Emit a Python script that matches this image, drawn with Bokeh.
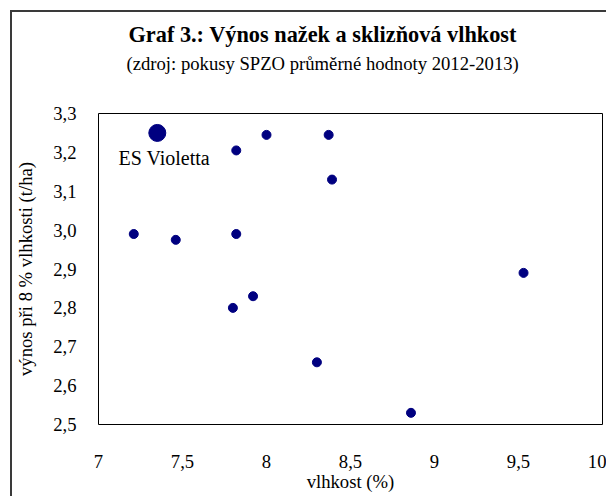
from bokeh.plotting import figure
from bokeh.models import Title, FixedTicker, ColumnDataSource
from bokeh.embed import file_html
from bokeh.resources import INLINE
from bokeh.core.properties import value

# ---- data ----
moisture = [7.82, 8.00, 8.37, 8.39, 7.21, 7.46, 7.82, 7.92, 9.53, 7.80, 8.30, 8.86]
yield_t = [3.205, 3.245, 3.245, 3.13, 2.99, 2.975, 2.99, 2.83, 2.89, 2.80, 2.66, 2.53]

hl_name = ["ES Violetta"]
hl_moisture = [7.35]
hl_yield = [3.25]

x_ticks = [7, 7.5, 8, 8.5, 9, 9.5, 10]
x_tick_labels = ["7", "7,5", "8", "8,5", "9", "9,5", "10"]
y_ticks = [2.5, 2.6, 2.7, 2.8, 2.9, 3.0, 3.1, 3.2, 3.3]
y_tick_labels = ["2,5", "2,6", "2,7", "2,8", "2,9", "3,0", "3,1", "3,2", "3,3"]

title_text = "Graf 3.: Výnos nažek a sklizňová vlhkost"
subtitle_text = "(zdroj: pokusy SPZO průměrné hodnoty 2012-2013)"
x_label = "vlhkost (%)"
y_label = "výnos při 8 % vlhkosti (t/ha)"

FONT = "Liberation Serif"
FS = "18.67px"
NAVY = "#000080"

p = figure(width=596, height=486, x_range=(7, 10), y_range=(2.5, 3.3),
           output_backend="svg", toolbar_location=None, title=None,
           min_border_left=82, min_border_right=6,
           min_border_top=101, min_border_bottom=74)
p.styles = {"border-left": "2px solid #3a3a3a", "border-top": "2px solid #3a3a3a",
            "margin-left": "10px", "margin-top": "10px"}

spacer = Title(text=" ", text_font_size="1px", standoff=36)
sub = Title(text=subtitle_text, align="left", offset=28, text_font=FONT,
            text_font_size=FS, text_font_style="normal", text_color="black",
            standoff=2)
main = Title(text=title_text, align="left", offset=30, text_font=FONT,
             text_font_size="22.3px", text_font_style="bold", text_color="black",
             standoff=6)
p.add_layout(spacer, "above")
p.add_layout(sub, "above")
p.add_layout(main, "above")

p.xgrid.visible = False
p.ygrid.visible = False
p.outline_line_color = "black"
p.outline_line_alpha = 1.0
p.outline_line_width = 1

for ax in (p.xaxis[0], p.yaxis[0]):
    ax.axis_line_color = None
    ax.major_tick_line_color = None
    ax.minor_tick_line_color = None
    ax.major_label_text_font = FONT
    ax.major_label_text_font_size = FS
    ax.major_label_text_color = "black"
    ax.axis_label_text_font = FONT
    ax.axis_label_text_font_size = FS
    ax.axis_label_text_font_style = "normal"
    ax.axis_label_text_color = "black"

p.xaxis.ticker = FixedTicker(ticks=x_ticks)
p.yaxis.ticker = FixedTicker(ticks=y_ticks)
p.xaxis.major_label_overrides = dict(zip(x_ticks, x_tick_labels))
p.yaxis.major_label_overrides = dict(zip(y_ticks, y_tick_labels))
p.xaxis.major_label_standoff = 24
p.yaxis.major_label_standoff = 16
p.xaxis.axis_label = x_label
p.yaxis.axis_label = y_label
p.xaxis.axis_label_standoff = 0
p.yaxis.axis_label_standoff = 14

src = ColumnDataSource(dict(x=moisture, y=yield_t))
p.scatter("x", "y", source=src, size=9, color=NAVY)

hl = ColumnDataSource(dict(x=hl_moisture, y=hl_yield, name=hl_name))
p.scatter("x", "y", source=hl, size=17, color=NAVY)
p.text("x", "y", text="name", source=hl, x_offset=7, y_offset=25,
       text_align="center", text_baseline="middle", text_font=value(FONT),
       text_font_size="20px", text_color="black")

open("out.html", "w").write(file_html(p, INLINE))
